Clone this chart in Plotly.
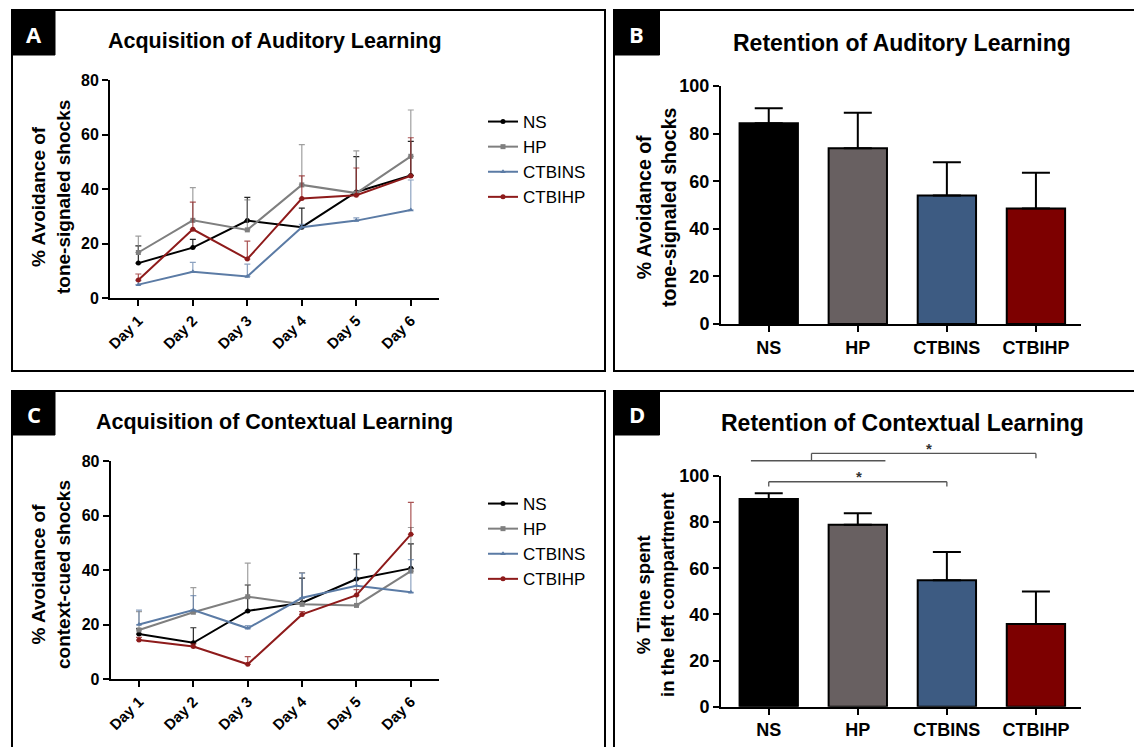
import plotly.graph_objects as go

# ---------------- data ----------------
days = ["Day 1", "Day 2", "Day 3", "Day 4", "Day 5", "Day 6"]
groups = ["NS", "HP", "CTBINS", "CTBIHP"]

# A: acquisition of auditory learning (% avoidance of tone-signaled shocks), mean and SEM
aud_ns = [12.8, 18.5, 28.4, 26.0, 38.9, 45.0]
aud_ns_err = [6.3, 3.0, 8.5, 7.0, 13.0, 12.5]
aud_hp = [16.7, 28.5, 25.0, 41.5, 38.5, 52.0]
aud_hp_err = [6.0, 12.0, 11.0, 14.8, 15.5, 17.0]
aud_ctbins = [4.9, 9.6, 7.9, 26.0, 28.4, 32.3]
aud_ctbins_err = [1.5, 3.5, 4.5, 1.0, 1.0, 11.0]
aud_ctbihp = [6.6, 25.2, 14.3, 36.5, 37.7, 44.8]
aud_ctbihp_err = [2.2, 10.0, 6.6, 8.3, 10.0, 14.0]

# C: acquisition of contextual learning (% avoidance of context-cued shocks)
ctx_ns = [16.5, 13.3, 25.0, 28.0, 36.7, 40.6]
ctx_ns_err = [2.0, 5.5, 9.5, 9.0, 9.2, 9.0]
ctx_hp = [18.0, 24.5, 30.2, 27.4, 27.0, 39.6]
ctx_hp_err = [6.7, 9.0, 12.3, 11.6, 13.0, 16.0]
ctx_ctbins = [20.0, 25.3, 18.6, 29.8, 34.2, 31.8]
ctx_ctbins_err = [5.3, 5.3, 1.0, 9.0, 6.0, 12.0]
ctx_ctbihp = [14.3, 11.9, 5.4, 23.7, 30.8, 53.1]
ctx_ctbihp_err = [1.0, 1.0, 2.8, 1.0, 2.0, 11.7]

# B: retention of auditory learning
ret_aud = [84.3, 73.8, 54.0, 48.5]
ret_aud_err = [6.3, 15.0, 14.0, 15.0]

# D: retention of contextual learning (% time in the left compartment)
ret_ctx = [90.0, 78.9, 54.8, 35.9]
ret_ctx_err = [2.5, 5.0, 12.3, 14.0]

W, H = 1134, 747
FONT = "Liberation Sans, Arial, sans-serif"

line_colors = {"NS": "#000000", "HP": "#7f7f7f", "CTBINS": "#5b7ba5", "CTBIHP": "#8e1b1b"}
err_colors = {"NS": "rgba(0,0,0,0.85)", "HP": "rgba(127,127,127,0.75)",
              "CTBINS": "rgba(91,123,165,0.7)", "CTBIHP": "rgba(142,27,27,0.75)"}
symbols = {"NS": "circle", "HP": "square", "CTBINS": "triangle-up", "CTBIHP": "circle"}
bar_colors = ["#000000", "#686061", "#3d5b82", "#7d0000"]


def px(x):
    return x / W


def py(y):
    return 1 - y / H


fig = go.Figure()

# ---- line panels ----
def add_lines(series, xa, ya, legend):
    for name, vals, errs in series:
        fig.add_trace(go.Scatter(
            x=days, y=vals, name=name, mode="lines+markers",
            xaxis=xa, yaxis=ya, legend=legend, cliponaxis=False,
            line=dict(color=line_colors[name], width=2),
            marker=dict(symbol=symbols[name], size=5, color=line_colors[name]),
            error_y=dict(type="data", array=errs, arrayminus=[0] * len(errs),
                         symmetric=False, color=err_colors[name],
                         thickness=1.2, width=3),
        ))


add_lines([("NS", aud_ns, aud_ns_err), ("HP", aud_hp, aud_hp_err),
           ("CTBINS", aud_ctbins, aud_ctbins_err), ("CTBIHP", aud_ctbihp, aud_ctbihp_err)],
          "x", "y", "legend")
add_lines([("NS", ctx_ns, ctx_ns_err), ("HP", ctx_hp, ctx_hp_err),
           ("CTBINS", ctx_ctbins, ctx_ctbins_err), ("CTBIHP", ctx_ctbihp, ctx_ctbihp_err)],
          "x3", "y3", "legend2")

# ---- bar panels ----
for vals, errs, xa, ya in [(ret_aud, ret_aud_err, "x2", "y2"), (ret_ctx, ret_ctx_err, "x4", "y4")]:
    fig.add_trace(go.Bar(
        x=groups, y=vals, xaxis=xa, yaxis=ya, showlegend=False, width=0.655,
        marker=dict(color=bar_colors, line=dict(color="#000000", width=2)),
        error_y=dict(type="data", array=errs, arrayminus=[0] * 4, symmetric=False,
                     color="#000000", thickness=2, width=14),
    ))

# ---- axes ----
dom = {
    "A": dict(x=[110, 438.6], y=[298, 80]),
    "B": dict(x=[721, 1081], y=[324, 86]),
    "C": dict(x=[110.7, 438.6], y=[679, 461]),
    "D": dict(x=[721, 1081], y=[706.7, 476]),
}
line_range = [-0.52, 5.51]
bar_range = [-0.536, 3.506]


def xaxis_cfg(d, rng, anchor, angle, size):
    return dict(domain=[px(d["x"][0]), px(d["x"][1])], range=rng, anchor=anchor,
                type="category", automargin=False,
                showline=True, linecolor="#000", linewidth=2,
                ticks="outside", ticklen=6, tickwidth=2, tickcolor="#000",
                showgrid=False, zeroline=False, tickangle=angle,
                tickfont=dict(family=FONT, size=size, color="#000", weight="bold"))


def yaxis_cfg(d, rng, dtick, anchor, size):
    return dict(domain=[py(d["y"][0]), py(d["y"][1])], range=rng, anchor=anchor,
                dtick=dtick, automargin=False,
                showline=True, linecolor="#000", linewidth=2,
                ticks="outside", ticklen=6, tickwidth=2, tickcolor="#000",
                showgrid=False, zeroline=False,
                tickfont=dict(family=FONT, size=size, color="#000", weight="bold"))


fig.update_layout(
    width=W, height=H, margin=dict(l=0, r=0, t=0, b=0, pad=0),
    paper_bgcolor="white", plot_bgcolor="white",
    font=dict(family=FONT, color="#000"),
    xaxis=xaxis_cfg(dom["A"], line_range, "y", -45, 15),
    yaxis=yaxis_cfg(dom["A"], [0, 80], 20, "x", 16),
    xaxis2=xaxis_cfg(dom["B"], bar_range, "y2", 0, 18),
    yaxis2=yaxis_cfg(dom["B"], [0, 100], 20, "x2", 18),
    xaxis3=xaxis_cfg(dom["C"], line_range, "y3", -45, 15),
    yaxis3=yaxis_cfg(dom["C"], [0, 80], 20, "x3", 16),
    xaxis4=xaxis_cfg(dom["D"], bar_range, "y4", 0, 18),
    yaxis4=yaxis_cfg(dom["D"], [0, 100], 20, "x4", 18),
    showlegend=True,
    legend=dict(x=px(483), y=py(104), xanchor="left", yanchor="top",
                bgcolor="rgba(0,0,0,0)", borderwidth=0, tracegroupgap=0,
                font=dict(family=FONT, size=17, color="#000")),
    legend2=dict(x=px(483), y=py(486), xanchor="left", yanchor="top",
                 bgcolor="rgba(0,0,0,0)", borderwidth=0, tracegroupgap=0,
                 font=dict(family=FONT, size=17, color="#000")),
)

shapes = []
annotations = []

# ---- panel frames and letter tags ----
frames = [
    ("A", 12, 10, 605, 371, 55, 55),
    ("B", 614, 10, 1145, 371, 659.5, 55),
    ("C", 12, 391, 605, 760, 55, 435),
    ("D", 614, 391, 1145, 760, 659.5, 435),
]
for tag, x0, y0, x1, y1, tx1, ty1 in frames:
    shapes.append(dict(type="rect", xref="paper", yref="paper",
                       x0=px(x0), y0=py(y1), x1=px(x1), y1=py(y0),
                       line=dict(color="#000", width=2), fillcolor="rgba(0,0,0,0)"))
    shapes.append(dict(type="rect", xref="paper", yref="paper",
                       x0=px(x0), y0=py(ty1), x1=px(tx1), y1=py(y0),
                       line=dict(color="#000", width=1), fillcolor="#000"))
    annotations.append(dict(text=tag, xref="paper", yref="paper",
                            x=px((x0 + tx1) / 2), y=py((y0 + ty1) / 2 + 1),
                            showarrow=False, xanchor="center", yanchor="middle",
                            font=dict(family="Open Sans, sans-serif", size=22,
                                      color="#fff", weight="bold")))

# ---- panel titles ----
titles = [
    ("Acquisition of Auditory Learning", 275, 41, 21.5),
    ("Retention of Auditory Learning", 901.6, 43, 23),
    ("Acquisition of Contextual Learning", 274, 422, 21.5),
    ("Retention of Contextual Learning", 902.4, 423, 23),
]
for text, x, y, size in titles:
    annotations.append(dict(text=text, xref="paper", yref="paper", x=px(x), y=py(y),
                            showarrow=False, xanchor="center", yanchor="middle",
                            font=dict(family=FONT, size=size, color="#000", weight="bold")))

# ---- y-axis titles (two lines, rotated) ----
ytitles = [
    ("% Avoidance of<br>tone-signaled shocks", 51, 197, 19),
    ("% Avoidance of<br>tone-signaled shocks", 656, 207, 19.5),
    ("% Avoidance of<br>context-cued shocks", 51, 575, 19),
    ("% Time spent<br>in the left compartment", 655, 595, 18.5),
]
for text, x, y, size in ytitles:
    annotations.append(dict(text=text, xref="paper", yref="paper", x=px(x), y=py(y),
                            showarrow=False, xanchor="center", yanchor="middle",
                            textangle=-90,
                            font=dict(family=FONT, size=size, color="#000", weight="bold")))

# ---- significance brackets on panel D (category index, % value) ----
dx0, dx1 = px(dom["D"]["x"][0]), px(dom["D"]["x"][1])
dy0, dy1 = py(dom["D"]["y"][0]), py(dom["D"]["y"][1])


def dpx(i):
    return dx0 + (i - bar_range[0]) / (bar_range[1] - bar_range[0]) * (dx1 - dx0)


def dpy(v):
    return dy0 + v / 100 * (dy1 - dy0)


bracket_segments = [
    # NS+HP grouping line
    (-0.2, 106.6, 1.31, 106.6),
    # grouped (NS, HP) vs CTBIHP
    (0.48, 106.6, 0.48, 109.8),
    (0.48, 109.8, 3.0, 109.8),
    (3.0, 109.8, 3.0, 107.7),
    # NS vs CTBINS
    (0.0, 95.4, 0.0, 97.5),
    (0.0, 97.5, 2.0, 97.5),
    (2.0, 97.5, 2.0, 95.4),
]
for a, b, c, d in bracket_segments:
    shapes.append(dict(type="line", xref="paper", yref="paper",
                       x0=dpx(a), y0=dpy(b), x1=dpx(c), y1=dpy(d),
                       line=dict(color="#555", width=1.3)))
for i, v in [(1.8, 112.0), (1.01, 99.8)]:
    annotations.append(dict(text="*", xref="paper", yref="paper", x=dpx(i), y=dpy(v),
                            showarrow=False, xanchor="center", yanchor="middle",
                            font=dict(family=FONT, size=15, color="#333", weight="bold")))

fig.update_layout(shapes=shapes, annotations=annotations)

fig.write_html("out.html")
